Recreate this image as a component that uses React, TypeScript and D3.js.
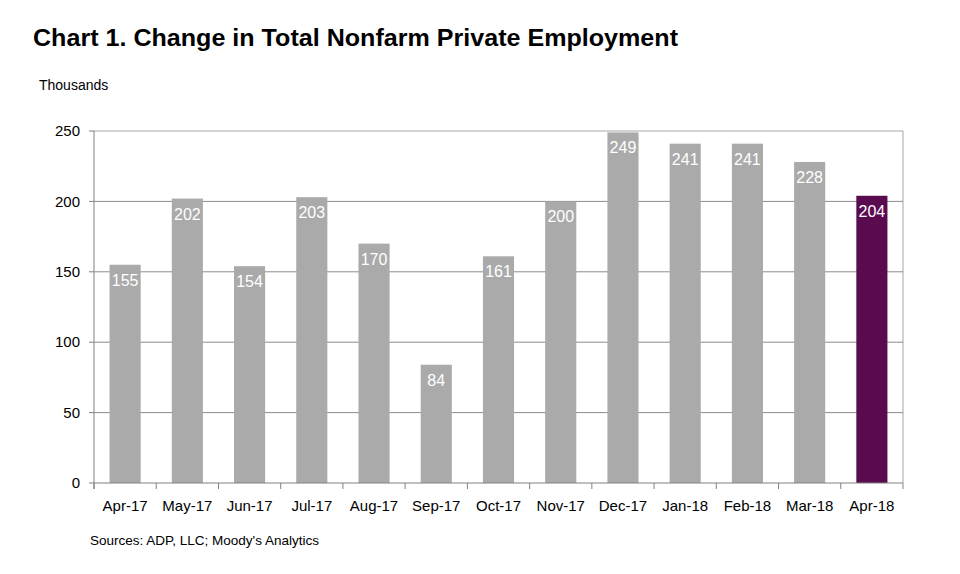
import { useMemo } from 'react';
import * as d3 from 'd3';

const months = ['Apr-17', 'May-17', 'Jun-17', 'Jul-17', 'Aug-17', 'Sep-17', 'Oct-17', 'Nov-17', 'Dec-17', 'Jan-18', 'Feb-18', 'Mar-18', 'Apr-18'];
const changes = [155, 202, 154, 203, 170, 84, 161, 200, 249, 241, 241, 228, 204];
const yTicks = [0, 50, 100, 150, 200, 250];

const W = 960;
const H = 574;
const margin = { top: 131, right: 57, bottom: 91, left: 94 };
const FONT = 'Arial, "Liberation Sans", sans-serif';

export default function App() {
  const innerW = W - margin.left - margin.right;
  const innerH = H - margin.top - margin.bottom;

  const x = useMemo(() => d3.scaleBand<string>().domain(months).range([0, innerW]).paddingInner(0.5).paddingOuter(0.25), [innerW]);
  const y = useMemo(() => d3.scaleLinear().domain([0, 250]).range([innerH, 0]), [innerH]);
  const step = x.step();

  return (
    <svg width={W} height={H} style={{ position: 'absolute', left: 0, top: 0, background: '#fff' }} fontFamily={FONT}>
      <text x={33} y={46} fontSize={24} fontWeight="bold" fill="#000" textLength={645} lengthAdjust="spacingAndGlyphs">
        Chart 1. Change in Total Nonfarm Private Employment
      </text>
      <text x={39} y={90} fontSize={14} fill="#000">Thousands</text>

      <g transform={`translate(${margin.left},${margin.top})`}>
        {/* plot border */}
        <line x1={0} x2={innerW} y1={0} y2={0} stroke="#a6a6a6" />
        <line x1={innerW} x2={innerW} y1={0} y2={innerH} stroke="#a6a6a6" />

        {/* gridlines + y labels */}
        {yTicks.map(t => (
          <g key={t} transform={`translate(0,${y(t)})`}>
            {t > 0 && t < 250 && <line x1={0} x2={innerW} stroke="#8c8c8c" />}
            <line x1={-5} x2={0} stroke="#808080" />
            <text x={-14} dy="0.35em" textAnchor="end" fontSize={15} fill="#000">{t}</text>
          </g>
        ))}

        {/* bars */}
        {months.map((m, i) => (
          <rect
            key={m}
            x={x(m)!}
            y={y(changes[i])}
            width={x.bandwidth()}
            height={innerH - y(changes[i])}
            fill={i === months.length - 1 ? '#5a0b4f' : '#aaaaaa'}
          />
        ))}

        {/* value labels */}
        {months.map((m, i) => (
          <text
            key={m}
            x={x(m)! + x.bandwidth() / 2}
            y={y(changes[i]) + 21}
            textAnchor="middle"
            fontSize={16}
            fill="#fff"
          >
            {changes[i]}
          </text>
        ))}

        {/* axes */}
        <line x1={0} x2={0} y1={0} y2={innerH + 6} stroke="#808080" />
        <line x1={0} x2={innerW} y1={innerH} y2={innerH} stroke="#808080" />
        {d3.range(months.length + 1).map(k => (
          <line key={k} x1={k * step} x2={k * step} y1={innerH} y2={innerH + 6} stroke="#808080" />
        ))}
        {months.map(m => (
          <text key={m} x={x(m)! + x.bandwidth() / 2} y={innerH + 28} textAnchor="middle" fontSize={15} fill="#000">
            {m}
          </text>
        ))}
      </g>

      <text x={90} y={545} fontSize={13} fill="#000" textLength={229} lengthAdjust="spacingAndGlyphs">Sources: ADP, LLC; Moody's Analytics</text>
    </svg>
  );
}
